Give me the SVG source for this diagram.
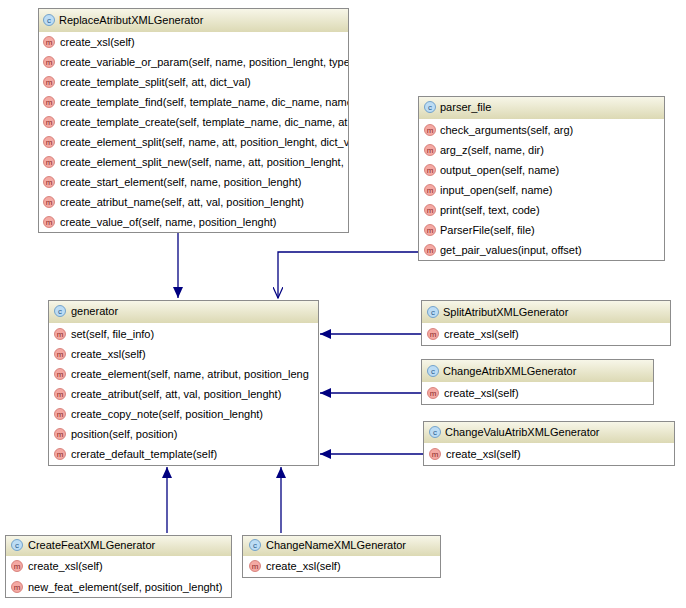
<svg xmlns="http://www.w3.org/2000/svg" width="686" height="608" viewBox="0 0 686 608">
<defs>
<linearGradient id="hg" x1="0" y1="0" x2="0" y2="1"><stop offset="0" stop-color="#f7f6e8"/><stop offset="1" stop-color="#dcd9b4"/></linearGradient>
<marker id="fa" markerWidth="12" markerHeight="10" refX="11" refY="5" orient="auto" markerUnits="userSpaceOnUse"><path d="M0,0 L11,5 L0,10 z" fill="#000080"/></marker>
<marker id="oa" markerWidth="12" markerHeight="10" refX="11" refY="5" orient="auto" markerUnits="userSpaceOnUse"><path d="M0,0 L11,5 L0,10" fill="none" stroke="#000080" stroke-width="1.2"/></marker>
<clipPath id="c1"><rect x="38" y="8" width="310" height="225"/></clipPath>
<clipPath id="c2"><rect x="48" y="300" width="270" height="166"/></clipPath>
</defs>
<style>
.box{fill:#fff;stroke:#8c8c8c;stroke-width:1}
.hd{fill:url(#hg)}
text{font-family:"Liberation Sans",Arial,sans-serif;font-size:11px;fill:#000}
.m{fill:#f4a9a3;stroke:#d0706a;stroke-width:0.8}
.mt{font-size:8px;fill:#8b2a2a;text-anchor:middle}
.c{fill:#bcdcf4;stroke:#5a92c4;stroke-width:0.8}
.ct{font-size:8px;fill:#2a5a8c;text-anchor:middle}
.ln{stroke:#000080;stroke-width:1.3;fill:none}
</style>
<g id="connectors">
<line class="ln" x1="178" y1="233" x2="178" y2="298" marker-end="url(#fa)"/>
<polyline class="ln" points="418,252 278,252 278,298" marker-end="url(#oa)"/>
<line class="ln" x1="421" y1="334" x2="320" y2="334" marker-end="url(#fa)"/>
<line class="ln" x1="421" y1="393" x2="320" y2="393" marker-end="url(#fa)"/>
<line class="ln" x1="423" y1="454" x2="320" y2="454" marker-end="url(#fa)"/>
<line class="ln" x1="167" y1="533" x2="167" y2="467" marker-end="url(#fa)"/>
<line class="ln" x1="281" y1="533" x2="281" y2="467" marker-end="url(#fa)"/>
</g>
<g id="ReplaceAtributXMLGenerator">
<rect class="box" x="38.5" y="8.5" width="310" height="224"/>
<rect class="hd" x="39" y="9" width="309" height="23"/>
<circle class="c" cx="49" cy="20" r="5.5"/><text class="ct" x="49" y="23">c</text>
<text x="59" y="24">ReplaceAtributXMLGenerator</text>
<g clip-path="url(#c1)">
<circle class="m" cx="49" cy="42" r="5.5"/><text class="mt" x="49" y="45">m</text><text x="60" y="46">create_xsl(self)</text>
<circle class="m" cx="49" cy="62" r="5.5"/><text class="mt" x="49" y="65">m</text><text x="60" y="66">create_variable_or_param(self, name, position_lenght, type</text>
<circle class="m" cx="49" cy="82" r="5.5"/><text class="mt" x="49" y="85">m</text><text x="60" y="86">create_template_split(self, att, dict_val)</text>
<circle class="m" cx="49" cy="102" r="5.5"/><text class="mt" x="49" y="105">m</text><text x="60" y="106">create_template_find(self, template_name, dic_name, name</text>
<circle class="m" cx="49" cy="122" r="5.5"/><text class="mt" x="49" y="125">m</text><text x="60" y="126">create_template_create(self, template_name, dic_name, at</text>
<circle class="m" cx="49" cy="142" r="5.5"/><text class="mt" x="49" y="145">m</text><text x="60" y="146">create_element_split(self, name, att, position_lenght, dict_v</text>
<circle class="m" cx="49" cy="162" r="5.5"/><text class="mt" x="49" y="165">m</text><text x="60" y="166">create_element_split_new(self, name, att, position_lenght,</text>
<circle class="m" cx="49" cy="182" r="5.5"/><text class="mt" x="49" y="185">m</text><text x="60" y="186">create_start_element(self, name, position_lenght)</text>
<circle class="m" cx="49" cy="202" r="5.5"/><text class="mt" x="49" y="205">m</text><text x="60" y="206">create_atribut_name(self, att, val, position_lenght)</text>
<circle class="m" cx="49" cy="222" r="5.5"/><text class="mt" x="49" y="225">m</text><text x="60" y="226">create_value_of(self, name, position_lenght)</text>
</g>
</g>
<g id="parser_file">
<rect class="box" x="418.5" y="96.5" width="246" height="164"/>
<rect class="hd" x="419" y="97" width="245" height="22"/>
<circle class="c" cx="430" cy="107" r="5.5"/><text class="ct" x="430" y="110">c</text>
<text x="440" y="111">parser_file</text>
<circle class="m" cx="430" cy="130" r="5.5"/><text class="mt" x="430" y="133">m</text><text x="440" y="134">check_arguments(self, arg)</text>
<circle class="m" cx="430" cy="150" r="5.5"/><text class="mt" x="430" y="153">m</text><text x="440" y="154">arg_z(self, name, dir)</text>
<circle class="m" cx="430" cy="170" r="5.5"/><text class="mt" x="430" y="173">m</text><text x="440" y="174">output_open(self, name)</text>
<circle class="m" cx="430" cy="190" r="5.5"/><text class="mt" x="430" y="193">m</text><text x="440" y="194">input_open(self, name)</text>
<circle class="m" cx="430" cy="210" r="5.5"/><text class="mt" x="430" y="213">m</text><text x="440" y="214">print(self, text, code)</text>
<circle class="m" cx="430" cy="230" r="5.5"/><text class="mt" x="430" y="233">m</text><text x="440" y="234">ParserFile(self, file)</text>
<circle class="m" cx="430" cy="250" r="5.5"/><text class="mt" x="430" y="253">m</text><text x="440" y="254">get_pair_values(input, offset)</text>
</g>
<g id="generator">
<rect class="box" x="48.5" y="300.5" width="270" height="165"/>
<rect class="hd" x="49" y="301" width="269" height="22"/>
<circle class="c" cx="60" cy="311" r="5.5"/><text class="ct" x="60" y="314">c</text>
<text x="71" y="315">generator</text>
<g clip-path="url(#c2)">
<circle class="m" cx="60" cy="334" r="5.5"/><text class="mt" x="60" y="337">m</text><text x="71" y="338">set(self, file_info)</text>
<circle class="m" cx="60" cy="354" r="5.5"/><text class="mt" x="60" y="357">m</text><text x="71" y="358">create_xsl(self)</text>
<circle class="m" cx="60" cy="374" r="5.5"/><text class="mt" x="60" y="377">m</text><text x="71" y="378">create_element(self, name, atribut, position_leng</text>
<circle class="m" cx="60" cy="394" r="5.5"/><text class="mt" x="60" y="397">m</text><text x="71" y="398">create_atribut(self, att, val, position_lenght)</text>
<circle class="m" cx="60" cy="414" r="5.5"/><text class="mt" x="60" y="417">m</text><text x="71" y="418">create_copy_note(self, position_lenght)</text>
<circle class="m" cx="60" cy="434" r="5.5"/><text class="mt" x="60" y="437">m</text><text x="71" y="438">position(self, position)</text>
<circle class="m" cx="60" cy="454" r="5.5"/><text class="mt" x="60" y="457">m</text><text x="71" y="458">crerate_default_template(self)</text>
</g>
</g>
<g id="SplitAtributXMLGenerator">
<rect class="box" x="421.5" y="300.5" width="249" height="45"/>
<rect class="hd" x="422" y="301" width="248" height="22"/>
<circle class="c" cx="433" cy="312" r="5.5"/><text class="ct" x="433" y="315">c</text>
<text x="443" y="316">SplitAtributXMLGenerator</text>
<circle class="m" cx="433" cy="334" r="5.5"/><text class="mt" x="433" y="337">m</text><text x="444" y="338">create_xsl(self)</text>
</g>
<g id="ChangeAtribXMLGenerator">
<rect class="box" x="421.5" y="359.5" width="232" height="45"/>
<rect class="hd" x="422" y="360" width="231" height="22"/>
<circle class="c" cx="433" cy="371" r="5.5"/><text class="ct" x="433" y="374">c</text>
<text x="443" y="375">ChangeAtribXMLGenerator</text>
<circle class="m" cx="433" cy="393" r="5.5"/><text class="mt" x="433" y="396">m</text><text x="444" y="397">create_xsl(self)</text>
</g>
<g id="ChangeValuAtribXMLGenerator">
<rect class="box" x="423.5" y="421.5" width="251" height="44"/>
<rect class="hd" x="424" y="422" width="250" height="21"/>
<circle class="c" cx="435" cy="432" r="5.5"/><text class="ct" x="435" y="435">c</text>
<text x="445" y="436">ChangeValuAtribXMLGenerator</text>
<circle class="m" cx="435" cy="454" r="5.5"/><text class="mt" x="435" y="457">m</text><text x="446" y="458">create_xsl(self)</text>
</g>
<g id="CreateFeatXMLGenerator">
<rect class="box" x="5.5" y="535.5" width="226" height="62"/>
<rect class="hd" x="6" y="536" width="225" height="20"/>
<circle class="c" cx="17" cy="545" r="5.5"/><text class="ct" x="17" y="548">c</text>
<text x="28" y="549">CreateFeatXMLGenerator</text>
<circle class="m" cx="17" cy="566" r="5.5"/><text class="mt" x="17" y="569">m</text><text x="28" y="570">create_xsl(self)</text>
<circle class="m" cx="17" cy="587" r="5.5"/><text class="mt" x="17" y="590">m</text><text x="28" y="591">new_feat_element(self, position_lenght)</text>
</g>
<g id="ChangeNameXMLGenerator">
<rect class="box" x="242.5" y="535.5" width="198" height="42"/>
<rect class="hd" x="243" y="536" width="197" height="20"/>
<circle class="c" cx="255" cy="545" r="5.5"/><text class="ct" x="255" y="548">c</text>
<text x="266" y="549">ChangeNameXMLGenerator</text>
<circle class="m" cx="255" cy="566" r="5.5"/><text class="mt" x="255" y="569">m</text><text x="266" y="570">create_xsl(self)</text>
</g>
</svg>
